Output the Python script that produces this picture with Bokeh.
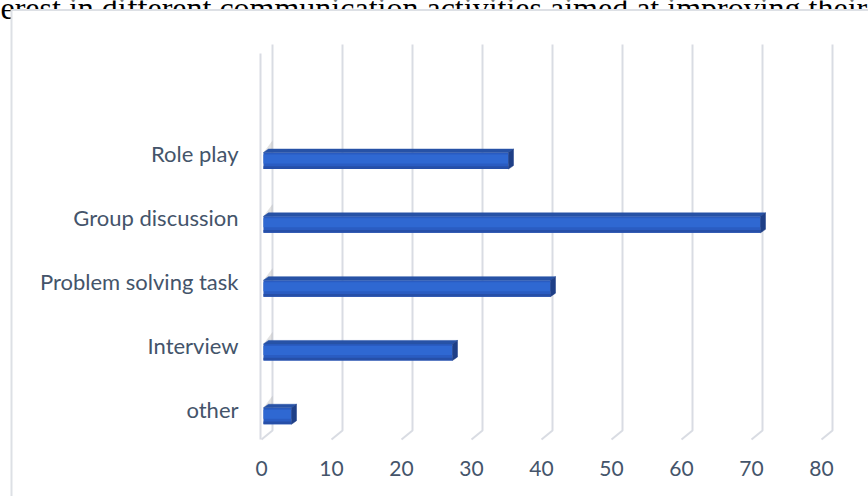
from bokeh.plotting import figure
from bokeh.models import Range1d
from bokeh.core.properties import value
from bokeh.embed import file_html
from bokeh.resources import INLINE

# ---- data ----
categories = ["other", "Interview", "Problem solving task", "Group discussion", "Role play"]
counts = [4, 27, 41, 71, 35]
x_ticks = [0, 10, 20, 30, 40, 50, 60, 70, 80]
x_tick_labels = ["0", "10", "20", "30", "40", "50", "60", "70", "80"]
title_text = "erest in different communication activities aimed at improving their"

# ---- geometry helpers (pixel -> data) ----
W, H = 868, 496
X0, XS = 263.0, 7.0    # pixel of value 0 on bar front plane, pixels per unit
Y0, YS = 415.5, 63.8   # pixel of first category centre, pixels per category


def xv(px):
    return (px - X0) / XS


def yv(py):
    return (Y0 - py) / YS


p = figure(width=W, height=H,
           x_range=Range1d(xv(0), xv(W)), y_range=Range1d(yv(H), yv(0)),
           output_backend="svg", toolbar_location=None,
           x_axis_location=None, y_axis_location=None,
           min_border=0, outline_line_color=None,
           background_fill_color="white", border_fill_color="white")
p.grid.visible = False

LABEL_FONT = value("Lato")
LABEL_COLOR = "#44546A"

# title (partially hidden behind the chart area, as in the reference)
p.text(x=[xv(0)], y=[yv(7)], text=[title_text],
       text_font=value("Liberation Serif"), text_font_size="32px",
       text_align="left", text_baseline="alphabetic", text_color="black")

# chart area
p.quad(left=[xv(11)], right=[xv(W + 20)], top=[yv(9.5)], bottom=[yv(H + 20)],
       fill_color="white", line_color="#DDE0E5", line_width=2)

# 3D gridlines: back vertical part + short diagonal to the front plane
back = 9.0 / XS
front = -2.0 / XS
gx = [[t + back, t + back, t + front] for t in x_ticks]
gy = [[yv(44), yv(430), yv(439)] for _ in x_ticks]
p.multi_line(xs=gx, ys=gy, line_color="#D9DCE3", line_width=2)

# side wall front edge
p.line(x=[xv(260), xv(260)], y=[yv(53), yv(439)], line_color="#D9DCE3", line_width=2)

# bars
ypos = list(range(len(categories)))
h = 16.5 / YS
dx = 5.0 / XS
dy = 3.5 / YS

# shadow on wall at bar start
sh_x = [[0, back, back, 0] for _ in ypos]
sh_y = [[i + h / 2, i + h / 2 + 12 / YS, i - h / 2 + 12 / YS, i - h / 2] for i in ypos]
p.patches(xs=sh_x, ys=sh_y, fill_color="#8C8C8C", fill_alpha=0.25, line_color=None)

# front face (tones to hint at a gradient)
p.quad(left=[0] * len(counts), right=counts,
       top=[i + h / 2 for i in ypos], bottom=[i - h / 2 for i in ypos],
       fill_color="#2A5CC2", line_color=None)
p.quad(left=[0] * len(counts), right=counts,
       top=[i + h / 2 - 2 / YS for i in ypos], bottom=[i - h / 6 for i in ypos],
       fill_color="#2F68D2", line_color=None)
p.quad(left=[0] * len(counts), right=counts,
       top=[i - h / 3 for i in ypos], bottom=[i - h / 2 for i in ypos],
       fill_color="#264FA8", line_color=None)

# top face
tx = [[0, c, c + dx, dx] for c in counts]
ty = [[i + h / 2, i + h / 2, i + h / 2 + dy, i + h / 2 + dy] for i in ypos]
p.patches(xs=tx, ys=ty, fill_color="#2752A6", line_color="#2752A6", line_width=0.5)

# end face
ex = [[c, c + dx, c + dx, c] for c in counts]
ey = [[i - h / 2, i - h / 2 + dy, i + h / 2 + dy, i + h / 2] for i in ypos]
p.patches(xs=ex, ys=ey, fill_color="#1E3F87", line_color="#1E3F87", line_width=0.5)

# category labels
p.text(x=[xv(238)] * len(categories), y=[i + 7 / YS for i in ypos], text=categories,
       text_font=LABEL_FONT, text_font_size="22px", text_color=LABEL_COLOR,
       text_align="right", text_baseline="middle")

# x tick labels (front plane)
p.text(x=[t + front for t in x_ticks], y=[yv(468)] * len(x_ticks), text=x_tick_labels,
       text_font=LABEL_FONT, text_font_size="21px", text_color=LABEL_COLOR,
       text_align="center", text_baseline="middle")

open("out.html", "w").write(file_html(p, INLINE))
